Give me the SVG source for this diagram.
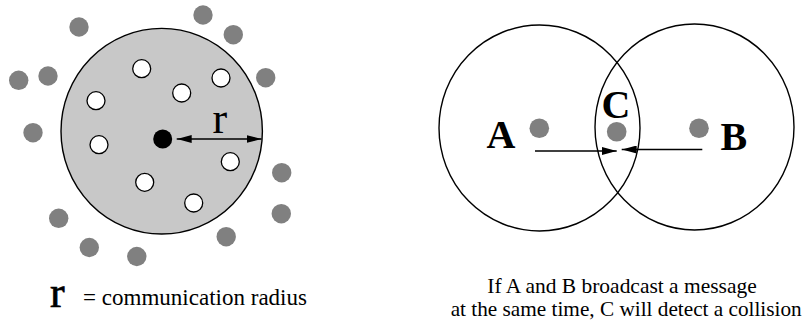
<svg xmlns="http://www.w3.org/2000/svg" width="806" height="324" viewBox="0 0 806 324">
<style>
.gd{fill:#808080}
.wd{fill:#fff;stroke:#000;stroke-width:1.3}
.ring{fill:none;stroke:#000;stroke-width:1.4}
.lbl{font-family:"Liberation Serif","Times New Roman",serif;fill:#000}
.big{font-size:40px;font-weight:bold}
.txt{font-size:23px}
.cap{font-size:22px}
.ln{stroke:#000;stroke-width:1.5;fill:none}
</style>
<defs>
<marker id="ah" viewBox="0 0 15 8" refX="15" refY="4" markerWidth="15" markerHeight="8" markerUnits="userSpaceOnUse" orient="auto-start-reverse">
<path d="M0,0 L15,4 L0,8 Z" fill="#000"/>
</marker>
</defs>
<rect width="806" height="324" fill="#fff"/>

<g id="range">
<ellipse cx="161.7" cy="131.2" rx="100.7" ry="102.8" fill="#c8c8c8" stroke="#000" stroke-width="1.4"/>
</g>
<g id="outside">
<circle class="gd" cx="79" cy="27" r="9.7"/>
<circle class="gd" cx="203" cy="15" r="9.7"/>
<circle class="gd" cx="233.3" cy="34.7" r="9.7"/>
<circle class="gd" cx="18.7" cy="80.3" r="9.7"/>
<circle class="gd" cx="48" cy="76" r="9.7"/>
<circle class="gd" cx="265.7" cy="77.7" r="9.7"/>
<circle class="gd" cx="33" cy="132.7" r="9.7"/>
<circle class="gd" cx="281.7" cy="172.7" r="9.7"/>
<circle class="gd" cx="281.3" cy="213.7" r="9.7"/>
<circle class="gd" cx="58.7" cy="218.3" r="9.7"/>
<circle class="gd" cx="89.3" cy="247.5" r="9.7"/>
<circle class="gd" cx="136.8" cy="256.5" r="9.7"/>
<circle class="gd" cx="226.2" cy="236.7" r="9.7"/>
</g>
<g id="inside">
<circle class="wd" cx="141.7" cy="68.7" r="9"/>
<circle class="wd" cx="96" cy="100.7" r="9"/>
<circle class="wd" cx="181.7" cy="93" r="9"/>
<circle class="wd" cx="221" cy="78" r="9"/>
<circle class="wd" cx="99" cy="144.7" r="9"/>
<circle class="wd" cx="144.7" cy="182.3" r="9"/>
<circle class="wd" cx="230.3" cy="161.7" r="9"/>
<circle class="wd" cx="193.7" cy="203" r="9"/>
</g>
<g id="sender">
<circle cx="162.7" cy="139" r="9.5" fill="#000"/>
</g>
<g id="connectors">
<line class="ln" x1="176.7" y1="139" x2="261.5" y2="139" marker-start="url(#ah)" marker-end="url(#ah)"/>
<line class="ln" x1="535" y1="151" x2="616.7" y2="151" marker-end="url(#ah)"/>
<line class="ln" x1="702.3" y1="149.5" x2="621.7" y2="149.5" marker-end="url(#ah)"/>
</g>
<text class="lbl" x="212.5" y="133.3" font-size="44">r</text>

<g id="circleA">
<ellipse class="ring" cx="539.5" cy="128" rx="100.5" ry="103"/>
</g>
<g id="circleB">
<ellipse class="ring" cx="694.5" cy="127" rx="99.5" ry="103"/>
</g>
<g id="nodeA">
<circle class="gd" cx="539.3" cy="128.3" r="9.8"/>
<text class="lbl big" x="486.5" y="148.3">A</text>
</g>
<g id="nodeC">
<circle class="gd" cx="616.7" cy="131.7" r="9.8"/>
<text class="lbl big" x="601.5" y="117.5">C</text>
</g>
<g id="nodeB">
<circle class="gd" cx="699" cy="128.3" r="9.8"/>
<text class="lbl big" x="720.5" y="150">B</text>
</g>

<text class="lbl" x="50" y="306.7" font-size="44" stroke="#000" stroke-width="0.7">r</text>
<text class="lbl txt" font-family="Liberation Serif, serif" x="83" y="304.5" textLength="224" lengthAdjust="spacingAndGlyphs">= communication radius</text>
<text class="lbl cap" font-family="Liberation Serif, serif" x="487.3" y="293.3" textLength="269.4" lengthAdjust="spacingAndGlyphs">If A and B broadcast a message</text>
<text class="lbl cap" font-family="Liberation Serif, serif" x="450.7" y="315.5" textLength="351" lengthAdjust="spacingAndGlyphs">at the same time, C will detect a collision</text>
</svg>
